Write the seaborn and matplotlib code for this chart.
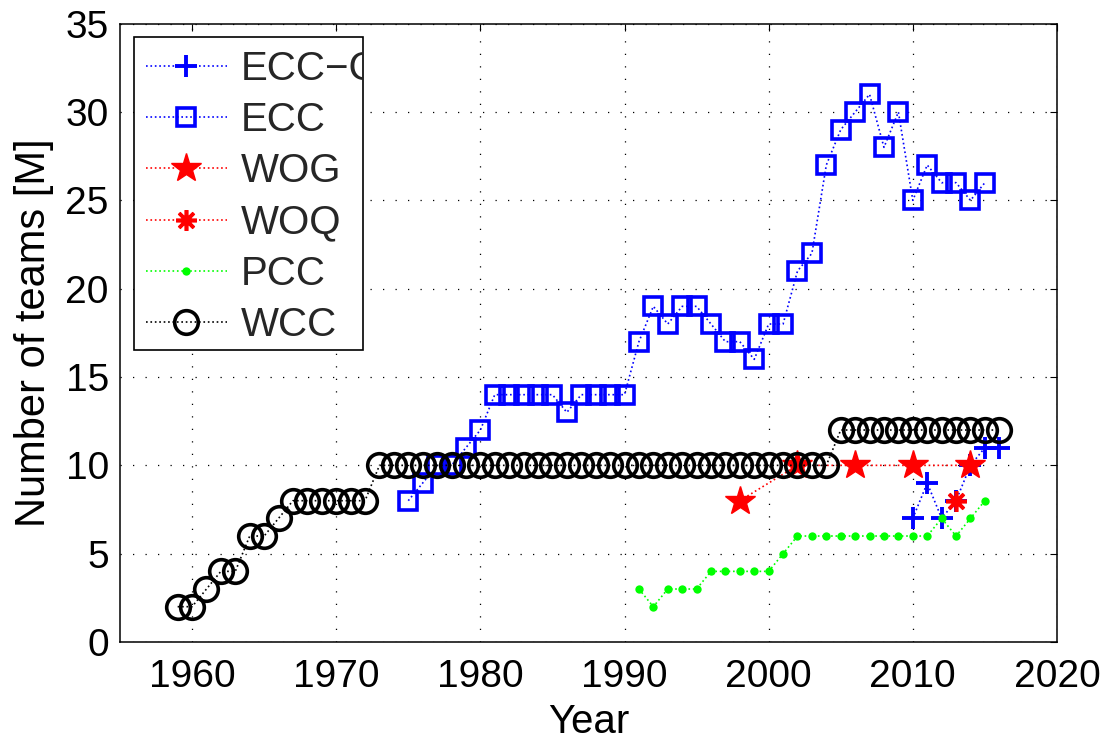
import numpy as np
import pandas as pd
import matplotlib
matplotlib.use("Agg")
import matplotlib.pyplot as plt
from matplotlib.patches import Rectangle
import seaborn as sns

# Number of participating teams per championship and year
ecc_c_years = [2010, 2011, 2012, 2013, 2014, 2015, 2016]
ecc_c_teams = [7, 9, 7, 8, 10, 11, 11]

ecc_years = list(range(1975, 2016))
ecc_teams = [8, 9, 10, 10, 11, 12, 14, 14, 14, 14, 14, 13, 14, 14, 14, 14,
             17, 19, 18, 19, 19, 18, 17, 17, 16, 18, 18, 21, 22, 27, 29, 30,
             31, 28, 30, 25, 27, 26, 26, 25, 26]

wog_years = [1998, 2002, 2006, 2010, 2014]
wog_teams = [8, 10, 10, 10, 10]

woq_years = [2013]
woq_teams = [8]

pcc_years = list(range(1991, 2016))
pcc_teams = [3, 2, 3, 3, 3, 4, 4, 4, 4, 4, 5, 6, 6, 6, 6, 6, 6, 6, 6, 6,
             6, 7, 6, 7, 8]

wcc_years = list(range(1959, 2017))
wcc_teams = [2, 2, 3, 4, 4, 6, 6, 7, 8, 8, 8, 8, 8, 8] + [10] * 32 + [12] * 12

x_ticks = [1960, 1970, 1980, 1990, 2000, 2010, 2020]
y_ticks = [0, 5, 10, 15, 20, 25, 30, 35]

sns.set_theme(style="white")
plt.rcParams["font.family"] = ["Liberation Sans", "DejaVu Sans"]
plt.rcParams["axes.edgecolor"] = "black"
plt.rcParams["axes.linewidth"] = 1.1

fig = plt.figure(figsize=(11.14, 7.4), dpi=100)
ax = fig.add_axes([0.1077, 0.1324, 0.8411, 0.8356])

series = [
    ("ECC\u2212C", ecc_c_years, ecc_c_teams,
     dict(color="blue", marker="+", markersize=16, markeredgewidth=2.8,
          markeredgecolor="blue")),
    ("ECC", ecc_years, ecc_teams,
     dict(color="blue", marker="s", markersize=13, markeredgewidth=2.6,
          markerfacecolor="none", markeredgecolor="blue")),
    ("WOG", wog_years, wog_teams,
     dict(color="red", marker="*", markersize=22, markeredgewidth=1.0,
          markerfacecolor="red", markeredgecolor="red")),
    ("WOQ", woq_years, woq_teams,
     dict(color="red", marker=(8, 2, 0), markersize=15, markeredgewidth=2.6,
          markeredgecolor="red")),
    ("PCC", pcc_years, pcc_teams,
     dict(color="#00ff00", marker=".", markersize=12, markeredgewidth=0,
          markerfacecolor="#00ff00")),
    ("WCC", wcc_years, wcc_teams,
     dict(color="black", marker="o", markersize=17, markeredgewidth=2.6,
          markerfacecolor="none", markeredgecolor="black")),
]

for name, yrs, vals, style in series:
    df = pd.DataFrame({"Year": yrs, "Teams": vals})
    sns.lineplot(data=df, x="Year", y="Teams", ax=ax, label=name,
                 linestyle=":", linewidth=1.2, **style)

ax.set_xlim(1955, 2020)
ax.set_ylim(0, 35)
ax.set_xticks(x_ticks)
ax.set_yticks(y_ticks)
ax.grid(True, color="black", linestyle=(0, (1, 9)), linewidth=0.9)
ax.tick_params(direction="in", length=5, width=0.8, top=True, right=True,
               labelsize=28, colors="black")
ax.tick_params(axis="x", pad=12)
ax.tick_params(axis="y", pad=8)
for s in ax.spines.values():
    s.set_visible(True)
    s.set_color("black")

ax.set_xlabel("Year", fontsize=29, labelpad=6, color="black")
ax.set_ylabel("Number of teams [M]", fontsize=30, labelpad=8, color="black")

leg = ax.legend(loc="upper left", fontsize=29, frameon=True, fancybox=False,
                framealpha=1, edgecolor="black", handlelength=2.0,
                borderaxespad=0.35, labelspacing=0.33, handletextpad=0.35,
                borderpad=0.3)
leg.get_frame().set_visible(False)

# Fixed-size legend box; the longest label runs into its right edge
box = Rectangle((0.0149, 0.472), 0.2444, 0.506, transform=ax.transAxes,
                facecolor="white", edgecolor="black", linewidth=1.2,
                zorder=4.9)
ax.add_patch(box)
for t in leg.get_texts():
    t.set_clip_on(True)
    t.set_clip_path(box)

fig.savefig("out.png", dpi=100)
